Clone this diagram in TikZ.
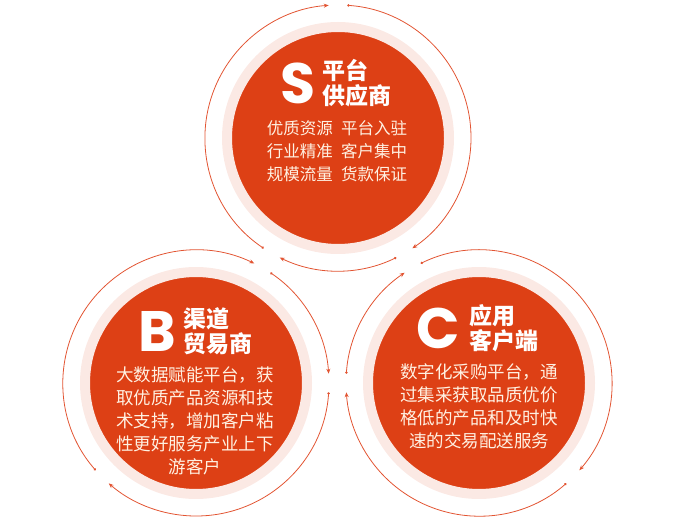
\documentclass[tikz,border=0pt]{standalone}
\usepackage{fontspec}
\setmainfont{Noto Sans CJK SC}
\newfontfamily\letterfont{Poppins}
\usetikzlibrary{positioning,arrows.meta}

\definecolor{discred}{RGB}{221,64,21}
\definecolor{ringpink}{RGB}{251,233,228}
\definecolor{flowred}{RGB}{226,84,50}
\definecolor{textcream}{RGB}{255,241,226}

\begin{document}
\begin{tikzpicture}[x=1pt,y=1pt,>={Stealth[length=5pt,width=4pt]},
		disc/.style={circle,fill=discred,draw=ringpink,line width=10pt,minimum size=222pt,inner sep=0pt},
		letter/.style={text=white,inner sep=0pt,font=\letterfont\bfseries\fontsize{57}{57}\selectfont},
		title/.style={text=white,inner sep=0pt,align=left,font=\bfseries\fontsize{23}{25}\selectfont},
		body/.style={text=textcream,inner sep=0pt,align=center,font=\fontsize{17.5}{23}\selectfont},
		flow/.style={draw=flowred,line width=0.8pt,{Circle[length=2.4pt]}->}]
   \useasboundingbox (0,0) rectangle (676,525);

   % three discs
   \node [disc] (S) at (338,387) {};
   \node [disc] (B) [on grid,below=245pt of S,xshift=-142pt] {};
   \node [disc] (C) [on grid,right=283pt of B] {};

   % S
   \node [letter] (Sl) [on grid,above=55pt of S,xshift=-40pt] {S};
   \node [title]  (St) [right=7pt of Sl] {平台\\供应商};
   \node [body,font=\fontsize{16.5}{23}\selectfont] (Sb) [on grid,below=13pt of S,xshift=-1pt]
        {优质资源\hspace{0.5em}平台入驻\\行业精准\hspace{0.5em}客户集中\\规模流量\hspace{0.5em}货款保证};

   % B
   \node [letter] (Bl) [on grid,above=52pt of B,xshift=-39pt] {B};
   \node [title]  (Bt) [right=7pt of Bl] {渠道\\贸易商};
   \node [body]   (Bb) [on grid,below=38pt of B,xshift=-1pt]
        {大数据赋能平台，获\\取优质产品资源和技\\术支持，增加客户粘\\性更好服务产业上下\\游客户};

   % C
   \node [letter] (Cl) [on grid,above=55pt of C,xshift=-41pt] {C};
   \node [title]  (Ct) [right=9pt of Cl] {应用\\客户端};
   \node [body]   (Cb) [on grid,below=23pt of C]
        {数字化采购平台，通\\过集采获取品质优价\\格低的产品和及时快\\速的交易配送服务};

   % clockwise arcs round each disc
   \foreach \c/\a/\b in {S/236/94,S/86/-56,S/296/244,
                         B/221/64,B/56/4,B/-4/-131,
                         C/116/-41,C/311/184,C/176/124}
      \draw [flow] ([shift={(\a:133pt)}]\c.center) arc [start angle=\a,end angle=\b,radius=133pt];
\end{tikzpicture}
\end{document}
